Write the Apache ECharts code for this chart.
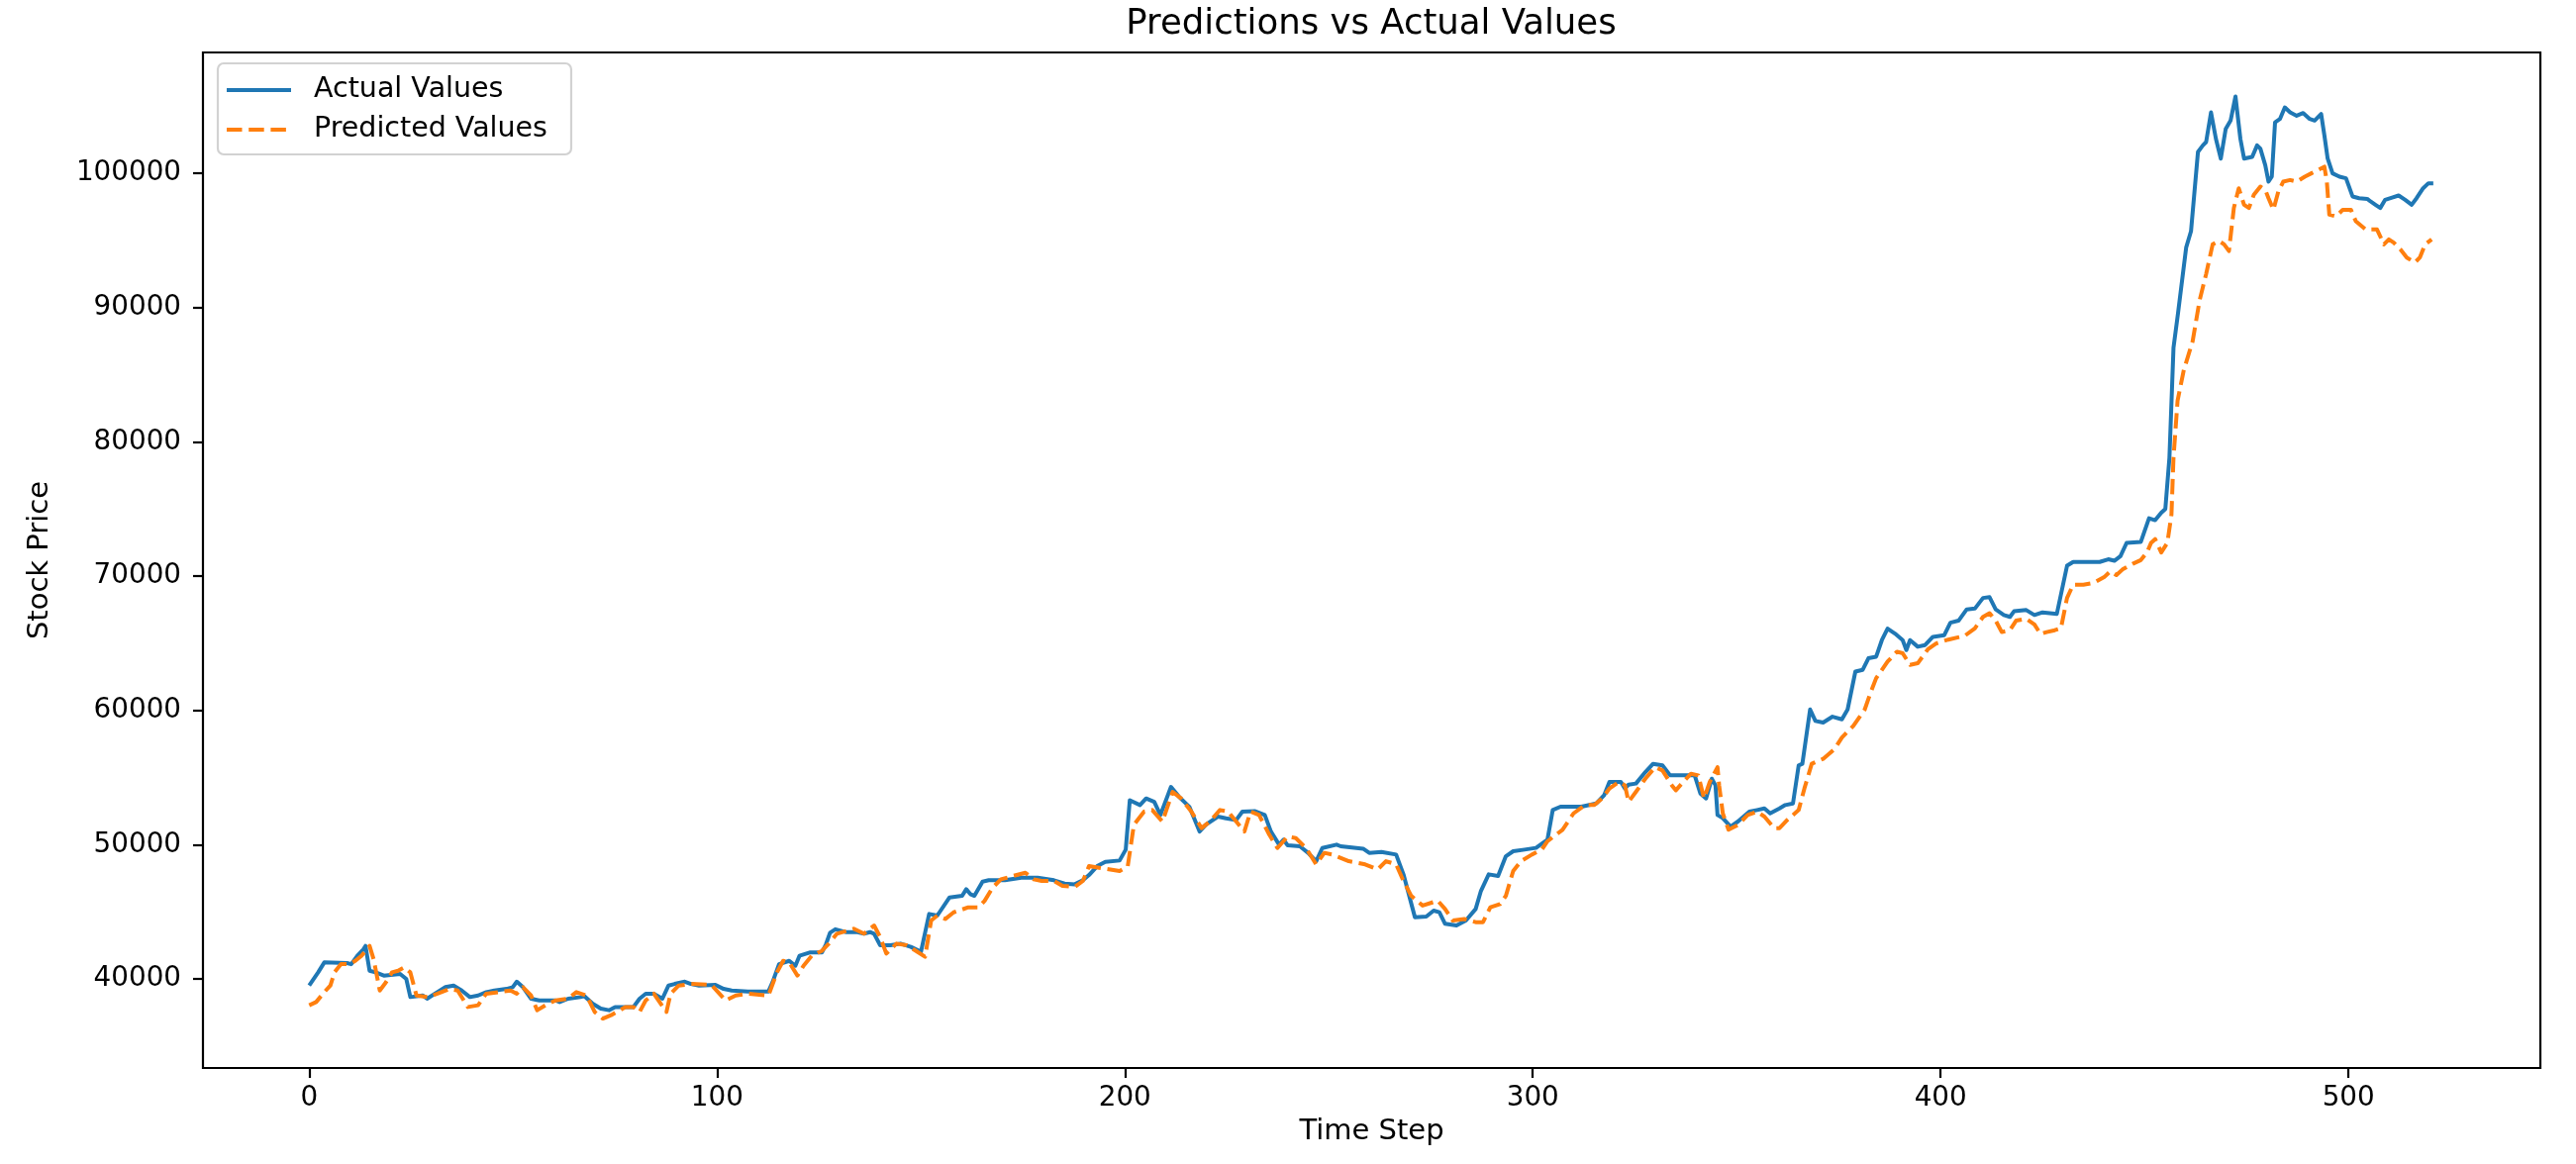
<!DOCTYPE html>
<html>
<head>
<meta charset="utf-8">
<script src="https://cdn.jsdelivr.net/npm/echarts@6.0.0/dist/echarts.min.js"></script>
<style>
html,body{margin:0;padding:0;background:#fff;}
#chart{width:2602px;height:1176px;}
</style>
</head>
<body>
<div id="chart"></div>
<script>
const titleText = 'Predictions vs Actual Values';
const xName = 'Time Step';
const yName = 'Stock Price';
const seriesNames = ['Actual Values', 'Predicted Values'];
const xTicks = [0, 100, 200, 300, 400, 500];
const yTicks = [40000, 50000, 60000, 70000, 80000, 90000, 100000];

// [time step, stock price]
const actual = [[0,39510],[2.2,40490],[3.7,41230],[9.3,41180],[10.3,41100],[11.8,41720],[13.3,42210],[13.8,42460],[14.8,40610],[16.3,40490],[18.3,40250],[22.3,40370],[23.8,40000],[24.8,38650],[27.8,38770],[28.9,38530],[31.4,39020],[33.4,39390],[35.4,39510],[37.4,39140],[39.4,38650],[41.4,38770],[43.4,39020],[45.4,39140],[48.4,39260],[49.9,39390],[50.9,39800],[52.4,39390],[54.4,38530],[56.4,38400],[60.4,38400],[61.4,38280],[63.5,38530],[66.5,38650],[67.5,38720],[69.5,38160],[71.5,37790],[73.5,37670],[75,37910],[79.5,37910],[81,38530],[82.5,38900],[84.5,38900],[86.6,38530],[88.1,39510],[89.6,39630],[92.1,39800],[93.6,39630],[95.6,39510],[99.6,39560],[101.6,39260],[103.6,39140],[107.6,39070],[112.6,39070],[113.6,39750],[115.2,41100],[117.7,41350],[119.2,40980],[120.2,41720],[122.7,41970],[125.7,41970],[126.7,42580],[127.7,43440],[129,43700],[131.5,43490],[134.5,43490],[136,43370],[137.5,43490],[138.5,43370],[140,42510],[142.5,42510],[145,42630],[147.5,42390],[150,42020],[152,44840],[154,44720],[157,46070],[160.1,46190],[161.1,46680],[162.1,46320],[163.1,46190],[165.1,47250],[166.6,47350],[170.6,47350],[174.6,47540],[178.6,47540],[182.6,47350],[185.2,47100],[187.7,47050],[189.7,47350],[191.2,47740],[193.2,48400],[195.2,48720],[198.7,48820],[200.2,49630],[201.2,53310],[203.7,52950],[205.2,53440],[207.2,53190],[208.7,52210],[211.3,54300],[213.3,53560],[215.8,52820],[218.3,50980],[219.8,51470],[222.8,52090],[224.8,51960],[227.3,51840],[228.8,52460],[231.8,52500],[234.3,52210],[235.8,50980],[237.8,50000],[238.9,50370],[239.9,49950],[242.9,49880],[244.9,49390],[246.9,48770],[248.4,49750],[251.9,50000],[252.9,49880],[258.4,49700],[259.9,49390],[262.9,49460],[266.5,49260],[268.3,47790],[271.1,44600],[273.9,44650],[275.7,45090],[277.1,44970],[278.5,44110],[281.3,43980],[283.6,44350],[286,45210],[287.3,46560],[289.2,47790],[291.5,47670],[293.4,49140],[295.2,49510],[298,49630],[300.8,49760],[303.6,50370],[304.9,52580],[306.8,52830],[311.9,52830],[315.6,53070],[317.5,53680],[318.8,54670],[321.6,54670],[322.6,54180],[323.5,54470],[325.3,54550],[327.6,55400],[329.5,56020],[331.8,55900],[333.7,55160],[339.7,55160],[341.1,53810],[342.5,53440],[343.9,54910],[344.8,54420],[345.3,52210],[346.6,51970],[348.5,51350],[350.3,51720],[353.1,52460],[355,52580],[356.8,52700],[358.2,52330],[360.5,52700],[361.9,52950],[363.8,53070],[365.2,55900],[366.1,56020],[368,60070],[369.3,59210],[371.2,59090],[373.5,59530],[375.8,59330],[377.2,60070],[379.1,62890],[380.9,63020],[382.3,63880],[384.2,64000],[385.6,65230],[387,66090],[388.8,65720],[390.7,65230],[391.6,64490],[392.5,65230],[394.4,64740],[396.2,64860],[398.1,65470],[400.9,65600],[402.4,66530],[404.4,66680],[406.4,67520],[408.4,67580],[410.4,68370],[412,68430],[413.5,67520],[415.5,67100],[417,66960],[418,67380],[421,67470],[423,67100],[425,67300],[428.5,67190],[431,70770],[432.5,71050],[439,71050],[441.1,71250],[442.6,71140],[444.1,71480],[445.6,72470],[449.1,72550],[451.1,74300],[452.6,74160],[454.1,74720],[455.1,75000],[456.1,78800],[457.1,87000],[458.2,89550],[460.2,94460],[461.4,95690],[463.1,101580],[464.3,102070],[465.1,102320],[466.3,104530],[467.5,102560],[468.7,101090],[469.9,103300],[471.1,103920],[472.3,105710],[473.5,102560],[474.4,101090],[476.4,101210],[477.6,102070],[478.4,101830],[479.6,100600],[480.4,99370],[481.2,99740],[482,103790],[483.2,104040],[484.4,104900],[485.7,104530],[487.3,104280],[488.9,104480],[490.5,104040],[491.7,103920],[493.3,104410],[494.1,102810],[494.9,101090],[496.1,99990],[497.8,99740],[499.4,99620],[501,98270],[502.6,98140],[504.6,98090],[505.4,97900],[506.6,97650],[507.8,97410],[509,98020],[510.7,98190],[512.3,98340],[513.9,98020],[515.5,97650],[516.7,98140],[518.3,98880],[519.6,99250],[520.8,99250]];

const predicted = [[0,38040],[1.7,38280],[3.7,39020],[5.2,39510],[6.2,40490],[7.8,41100],[9.8,41100],[11.3,41350],[12.8,41720],[14.8,42460],[15.8,41470],[17.3,39140],[18.8,39750],[20.3,40490],[21.8,40610],[23.3,40860],[24.8,40490],[26.3,38770],[29.3,38650],[32.4,39020],[34.4,39260],[36.4,39140],[38.9,37910],[41.4,38040],[43.4,38900],[46.4,39020],[49.4,39140],[50.9,38900],[52.4,39390],[54.4,38770],[55.9,37670],[57.9,38040],[60.4,38400],[63.5,38530],[65.5,39020],[68,38770],[70,37540],[72,37050],[74,37300],[77.5,37910],[79.5,37910],[81,37540],[82.5,38400],[84.5,38900],[87.6,37540],[88.6,38900],[90.6,39510],[93.6,39630],[98.6,39560],[102.1,38400],[104.6,38770],[107.6,38900],[112.6,38770],[114.7,40490],[116.2,41350],[117.7,41230],[119.7,40250],[121.2,40980],[123.2,41720],[125.7,42090],[127.4,42630],[129.4,43370],[133.5,43740],[136,43370],[138.5,43980],[140,43120],[141.5,41890],[144,42630],[146.5,42510],[148.5,42140],[151,41650],[152.5,44350],[154,44720],[156,44470],[158,44960],[161.6,45330],[164.1,45330],[165.6,45820],[167.6,46810],[169.6,47420],[172.6,47670],[175.6,47910],[177.6,47420],[179.6,47300],[182.6,47300],[184.7,46930],[187.7,46850],[189.7,47300],[191.2,48400],[194.7,48230],[198.7,48030],[200.7,48400],[202.2,51470],[204.7,52460],[206.7,52580],[209.2,51720],[211.7,53930],[213.8,53440],[216.3,52460],[218.8,51230],[220.8,51720],[223.3,52580],[225.3,52460],[227.3,51720],[229.3,50980],[230.8,52460],[232.9,52210],[235.4,50740],[237.4,49750],[239.9,50610],[241.9,50490],[244.4,49750],[246.9,48530],[248.9,49390],[250.9,49260],[254.9,48770],[258.9,48530],[262,48160],[264,48770],[266.5,48530],[268.3,47300],[270.2,46190],[273,45460],[276.7,45830],[278.5,45210],[280.4,44350],[283.2,44470],[286,44230],[287.8,44230],[289.6,45330],[292,45580],[293.4,46190],[295.2,48040],[297.1,48770],[299.8,49260],[302.2,49630],[303.6,50250],[307.3,51110],[310,52330],[312.8,52950],[315.1,52950],[317,53440],[318.8,54180],[321.1,54670],[322.6,54420],[323.5,53190],[325.3,53930],[327.6,54910],[330,55770],[331.8,55530],[334.1,54420],[335.1,54050],[336.9,54670],[338.8,55280],[340.6,55160],[342,53440],[343.4,54670],[345.3,55770],[345.7,54420],[346.6,52330],[348,51110],[350.3,51470],[352.7,52210],[355,52460],[356.8,52090],[359.2,51230],[360.5,51230],[362.4,51840],[365.2,52580],[366.6,54180],[368.4,56020],[371.2,56390],[374,57120],[375.8,57980],[378.6,58840],[381.4,60070],[382.8,61300],[384.2,62400],[387,63630],[389.3,64370],[390.7,64250],[392.5,63390],[394.4,63510],[396.9,64560],[398.9,64980],[401.9,65270],[405.9,65550],[408.4,66110],[410.4,66960],[412,67240],[413.5,66680],[415,65830],[417,65970],[418.5,66680],[421,66820],[423,66400],[424.5,65690],[426,65830],[428,65970],[429.5,66110],[431,68370],[432.5,69360],[435,69360],[437.6,69500],[440.1,69920],[441.6,70350],[443.1,70070],[444.6,70490],[447.1,70910],[449.1,71190],[450.6,71760],[451.6,72470],[452.6,72750],[454.1,71760],[455.6,72470],[456.6,74580],[457.1,78820],[458.1,83050],[459.6,85310],[461.8,87500],[463.5,90530],[465.1,92490],[466.7,94700],[468.3,94950],[469.5,94700],[470.7,94210],[471.9,97410],[473.1,98880],[474.4,97650],[475.6,97410],[476.8,98390],[478.4,99000],[479.6,98760],[480.4,98140],[481.6,97280],[482.8,98630],[484,99370],[485.7,99490],[487.3,99370],[489.3,99740],[490.9,99990],[492.5,100230],[494.1,100480],[494.7,99370],[495.3,96920],[497,96790],[498.6,97280],[500.6,97280],[501.8,96420],[504.2,95810],[507,95810],[508.7,94700],[509.9,95070],[511.1,94830],[512.7,94340],[514.3,93720],[516.3,93350],[517.5,93720],[518.8,94700],[520.4,95070]];

const FONT = 'DejaVu Sans';
const chart = echarts.init(document.getElementById('chart'), null, {renderer: 'canvas'});

const option = {
  animation: false,
  backgroundColor: '#ffffff',
  title: {
    text: titleText,
    left: 1385,
    top: 7,
    textAlign: 'center',
    padding: 0,
    textStyle: {fontFamily: FONT, fontSize: 35.5, fontWeight: 'normal', color: '#000'}
  },
  legend: {
    orient: 'vertical',
    left: 220,
    top: 64,
    data: seriesNames,
    itemWidth: 65,
    itemHeight: 14,
    itemGap: 10,
    padding: [12, 24, 10, 7],
    backgroundColor: '#ffffff',
    borderColor: '#d2d2d2',
    borderWidth: 2.2,
    borderRadius: 6,
    itemStyle: {opacity: 0, borderWidth: 0},
    lineStyle: {width: 4},
    textStyle: {fontFamily: FONT, fontSize: 28.5, color: '#000', lineHeight: 30, padding: [0, 0, 0, 18]}
  },
  grid: {
    left: 205, top: 53, right: 36, bottom: 97,
    show: true, borderColor: '#000', borderWidth: 2.2, backgroundColor: 'transparent'
  },
  xAxis: {
    type: 'value',
    min: -26.05, max: 547.05,
    name: xName, nameLocation: 'middle', nameGap: 50,
    nameTextStyle: {fontFamily: FONT, fontSize: 29, color: '#000'},
    axisLine: {show: false, onZero: false},
    splitLine: {show: false},
    axisTick: {show: true, length: 10, lineStyle: {color: '#000', width: 2.2}, customValues: xTicks},
    axisLabel: {fontFamily: FONT, fontSize: 27.8, color: '#000', margin: 17, customValues: xTicks, formatter: v => String(v)}
  },
  yAxis: {
    type: 'value',
    min: 33370, max: 108990,
    name: yName, nameLocation: 'middle', nameGap: 150, nameRotate: 90,
    nameTextStyle: {fontFamily: FONT, fontSize: 29, color: '#000'},
    axisLine: {show: false, onZero: false},
    splitLine: {show: false},
    axisTick: {show: true, length: 10, lineStyle: {color: '#000', width: 2.2}, customValues: yTicks},
    axisLabel: {fontFamily: FONT, fontSize: 27.8, color: '#000', margin: 22, customValues: yTicks, formatter: v => String(v)}
  },
  series: [
    {
      name: seriesNames[0], type: 'line', data: actual,
      symbol: 'none', showSymbol: false, smooth: false,
      lineStyle: {color: '#1f77b4', width: 4, join: 'round', cap: 'butt'},
      itemStyle: {color: '#1f77b4'}, z: 2
    },
    {
      name: seriesNames[1], type: 'line', data: predicted,
      symbol: 'none', showSymbol: false, smooth: false,
      lineStyle: {color: '#ff7f0e', width: 4, type: [15.5, 6.7], join: 'round', cap: 'butt'},
      itemStyle: {color: '#ff7f0e'}, z: 3
    }
  ]
};
chart.setOption(option);
</script>
</body>
</html>
